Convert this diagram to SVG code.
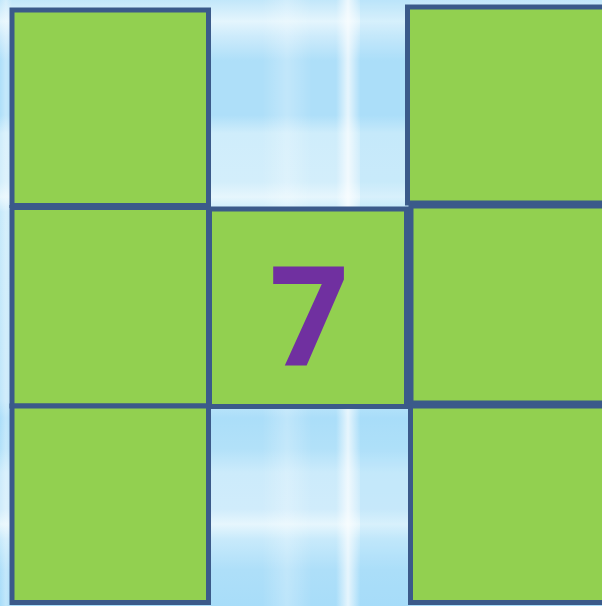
<svg xmlns="http://www.w3.org/2000/svg" width="602" height="606" viewBox="0 0 602 606">
<defs>
<style>
.cell{fill:#92D050;stroke:#3B5A8A;stroke-width:5}
.num{font-family:"Open Sans","Liberation Sans",sans-serif;font-weight:700;font-size:138px;fill:#7030A0;text-anchor:middle}
</style>
<linearGradient id="bands" gradientUnits="userSpaceOnUse" x1="0" y1="0" x2="0" y2="606">
<stop offset="0" stop-color="#C2E7FA"/>
<stop offset="0.035" stop-color="#E4F5FD"/>
<stop offset="0.06" stop-color="#CDEBFB"/>
<stop offset="0.1" stop-color="#AEDFF9"/>
<stop offset="0.19" stop-color="#AEDFF9"/>
<stop offset="0.22" stop-color="#CFEDFB"/>
<stop offset="0.3" stop-color="#D3EEFB"/>
<stop offset="0.325" stop-color="#E6F6FD"/>
<stop offset="0.35" stop-color="#C6E9FA"/>
<stop offset="0.66" stop-color="#C0E6FA"/>
<stop offset="0.69" stop-color="#ABDEF9"/>
<stop offset="0.74" stop-color="#B2E1F9"/>
<stop offset="0.78" stop-color="#CCEBFB"/>
<stop offset="0.84" stop-color="#D0ECFB"/>
<stop offset="0.865" stop-color="#E6F6FD"/>
<stop offset="0.89" stop-color="#C8EAFB"/>
<stop offset="0.94" stop-color="#AEDFF9"/>
<stop offset="1" stop-color="#A8DDF9"/>
</linearGradient>
<linearGradient id="vshade" x1="0" y1="0" x2="1" y2="0">
<stop offset="0" stop-color="#ffffff" stop-opacity="0"/>
<stop offset="0.5" stop-color="#ffffff" stop-opacity="0.7"/>
<stop offset="1" stop-color="#ffffff" stop-opacity="0"/>
</linearGradient>
</defs>
<g id="background">
<rect x="0" y="0" width="602" height="606" fill="url(#bands)"/>
<rect x="336" y="0" width="24" height="606" fill="url(#vshade)"/>
<rect x="262" y="0" width="50" height="606" fill="url(#vshade)" opacity="0.35"/>
<rect x="360" y="0" width="50" height="606" fill="#9FDBFA" opacity="0.2"/>
<rect x="0" y="0" width="12" height="606" fill="url(#vshade)" opacity="0.4"/>
</g>
<g id="cell-top-left"><rect class="cell" x="12" y="10" width="196.5" height="195.5"/></g>
<g id="cell-mid-left"><rect class="cell" x="12" y="207.5" width="196.5" height="198.5"/></g>
<g id="cell-bottom-left"><rect class="cell" x="12" y="406" width="196.5" height="196.5"/></g>
<g id="cell-center"><rect class="cell" x="209.5" y="209" width="197" height="197.5"/>
<text class="num" x="309" y="365">7</text></g>
<g id="cell-top-right"><rect class="cell" x="407.5" y="7" width="200" height="196"/></g>
<g id="cell-mid-right"><rect class="cell" x="411" y="206" width="200" height="197"/></g>
<g id="cell-bottom-right"><rect class="cell" x="410.5" y="406" width="200" height="196.5"/></g>
<g id="connectors"></g>
</svg>
